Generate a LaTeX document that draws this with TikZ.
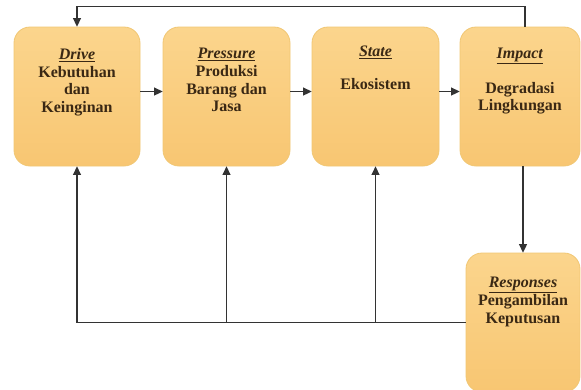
\documentclass[tikz,border=0pt]{standalone}
\usepackage{fontspec}
\setmainfont{Liberation Serif}
\usetikzlibrary{arrows.meta}
\definecolor{boxtop}{HTML}{FBD58D}
\definecolor{boxbot}{HTML}{F8C672}
\definecolor{boxline}{HTML}{F1C774}
\definecolor{txtc}{HTML}{3A2814}
\definecolor{linec}{HTML}{333333}
\tikzset{
  box/.style={draw=boxline, line width=0.8pt, rounded corners=16pt,
    top color=boxtop, bottom color=boxbot, inner sep=0pt},
  boxtxt/.style={anchor=north, align=center, inner sep=0pt, text=txtc,
    font=\fontsize{16}{17.7}\selectfont\bfseries},
  conn/.style={draw=linec, line width=1.3pt},
  arr/.style={conn, -{Triangle[length=8.5pt,width=8pt]}}
}
\begin{document}
\begin{tikzpicture}[x=1pt,y=-1pt]
\fill[white] (0,0) rectangle (581,389);
\useasboundingbox (0,0) rectangle (581,389);
% boxes
\node[box, minimum width=126pt, minimum height=139pt] (d) at (77,96.5) {};
\node[box, minimum width=127pt, minimum height=139pt] (p) at (226.5,96.5) {};
\node[box, minimum width=127pt, minimum height=139pt] (s) at (375.5,96.5) {};
\node[box, minimum width=120pt, minimum height=139pt] (i) at (520,96.5) {};
\node[box, minimum width=114pt, minimum height=139pt] (r) at (523,322.5) {};
% texts
\node[boxtxt] (dt) at (77,48) {\underline{\textit{Drive}}\\Kebutuhan\\dan\\Keinginan};
\node[boxtxt] (pt) at (226.5,48) {\underline{\textit{Pressure}}\\Produksi\\Barang dan\\Jasa};
\node[boxtxt] (st) at (375.5,46) {\underline{\textit{State}}\\[0.95em]Ekosistem};
\node[boxtxt] (it) at (520,48) {\underline{\textit{Impact}}\\[1.05em]Degradasi\\Lingkungan};
\node[boxtxt] (rt) at (523,277) {\underline{\textit{Responses}}\\Pengambilan\\Keputusan};
% horizontal arrows
\draw[arr] ([yshift=5pt]d.east) -- ([yshift=5pt]p.west);
\draw[arr] ([yshift=5pt]p.east) -- ([yshift=5pt]s.west);
\draw[arr] ([yshift=5pt]s.east) -- ([yshift=5pt]i.west);
% top feedback loop
\draw[arr] ([xshift=5pt]i.north) -- ++(0,-20) -| (d.north);
% impact to responses
\draw[arr] ([xshift=3pt]i.south) -- ([xshift=3pt]i.south |- r.north);
% bottom feedback
\coordinate (bl) at (d.south |- r.west);
\coordinate (bp) at (p.south |- r.west);
\coordinate (bs) at (s.south |- r.west);
\draw[conn] (r.west) -- (bl);
\draw[arr] (bl) -- (d.south);
\draw[arr] (bp) -- (p.south);
\draw[arr] (bs) -- (s.south);
\end{tikzpicture}
\end{document}
